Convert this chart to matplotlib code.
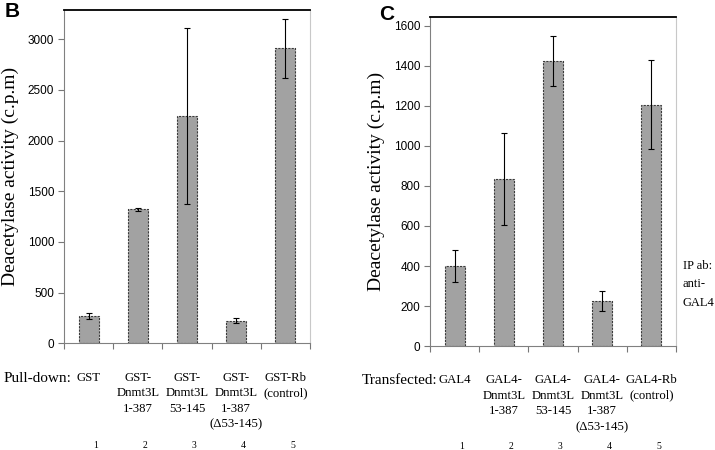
import matplotlib.pyplot as plt

# Дані панелі B (pull-down)
pull_labels = ["GST", "GST-\nDnmt3L\n1-387", "GST-\nDnmt3L\n53-145", "GST-\nDnmt3L\n1-387\n(\u039453-145)", "GST-Rb\n(control)"]
pull_values = [270, 1322, 2240, 222, 2911]
pull_errors = [25, 15, 870, 25, 290]

# Дані панелі C (transfected)
trans_labels = ["GAL4", "GAL4-\nDnmt3L\n1-387", "GAL4-\nDnmt3L\n53-145", "GAL4-\nDnmt3L\n1-387\n(\u039453-145)", "GAL4-Rb\n(control)"]
trans_values = [398, 833, 1423, 225, 1207]
trans_errors = [80, 230, 125, 48, 220]

lane_numbers = ["1", "2", "3", "4", "5"]

SANS = ["Liberation Sans", "DejaVu Sans"]
SERIF = ["Liberation Serif", "DejaVu Serif"]
BAR_COLOR = "#a2a2a2"


def draw_panel(ax, values, errors, labels, yticks, ytop, lead_text):
    x = list(range(1, len(values) + 1))
    ax.bar(x, values, width=0.41, color=BAR_COLOR, edgecolor="#3a3a3a",
           linewidth=0.8, linestyle=(0, (2, 1)), zorder=2)
    ax.errorbar(x, values, yerr=errors, fmt="none", ecolor="black",
                elinewidth=0.8, capsize=2.2, capthick=0.8, zorder=3)
    ax.set_xlim(0.5, len(values) + 0.5)
    ax.set_ylim(0, ytop)
    ax.set_yticks(yticks)
    ax.set_yticklabels([str(t) for t in yticks], fontfamily=SANS, fontsize=8.5)
    ax.set_xticks([i + 0.5 for i in range(0, len(values) + 1)])
    ax.set_xticklabels([])
    ax.tick_params(axis="x", length=4, color="#777777", direction="out")
    ax.tick_params(axis="y", length=4, color="#777777", direction="out", pad=3)
    for side in ["left", "bottom"]:
        ax.spines[side].set_color("#808080")
        ax.spines[side].set_linewidth(0.8)
    ax.spines["right"].set_color("#c8c8c8")
    ax.spines["right"].set_linewidth(0.8)
    ax.spines["top"].set_color("black")
    ax.spines["top"].set_linewidth(1.3)
    ax.set_ylabel("Deacetylase activity (c.p.m)", fontfamily=SERIF, fontsize=14, labelpad=6)

    # Підписи під стовпчиками
    trans = ax.get_xaxis_transform()
    for xi, lab in zip(x, labels):
        ax.text(xi, -0.085, lab, transform=trans, ha="center", va="top",
                fontfamily=SERIF, fontsize=9.2, linespacing=1.4)
    for xi, num in zip(x, lane_numbers):
        ax.text(xi + 0.15, -0.305, num, transform=trans, ha="center", va="center",
                fontfamily=SERIF, fontsize=7)
    ax.text(0.66, -0.085, lead_text, transform=trans, ha="right", va="top",
            fontfamily=SERIF, fontsize=11)


fig = plt.figure(figsize=(7.15, 4.5), dpi=100)

ax_b = fig.add_axes([0.0895, 0.237, 0.344, 0.741])
draw_panel(ax_b, pull_values, pull_errors, pull_labels,
           [0, 500, 1000, 1500, 2000, 2500, 3000], 3289, "Pull-down:")

ax_c = fig.add_axes([0.6014, 0.231, 0.344, 0.732])
draw_panel(ax_c, trans_values, trans_errors, trans_labels,
           [0, 200, 400, 600, 800, 1000, 1200, 1400, 1600], 1646, "Transfected:")

fig.text(0.007, 0.995, "B", fontfamily=SANS, fontsize=15, fontweight="bold", va="top")
fig.text(0.530, 0.99, "C", fontfamily=SANS, fontsize=15, fontweight="bold", va="top")
fig.text(0.955, 0.422, "IP ab:\nanti-\nGAL4", fontfamily=SERIF, fontsize=9,
         va="top", ha="left", linespacing=1.7)

fig.savefig("out.png", dpi=100)
